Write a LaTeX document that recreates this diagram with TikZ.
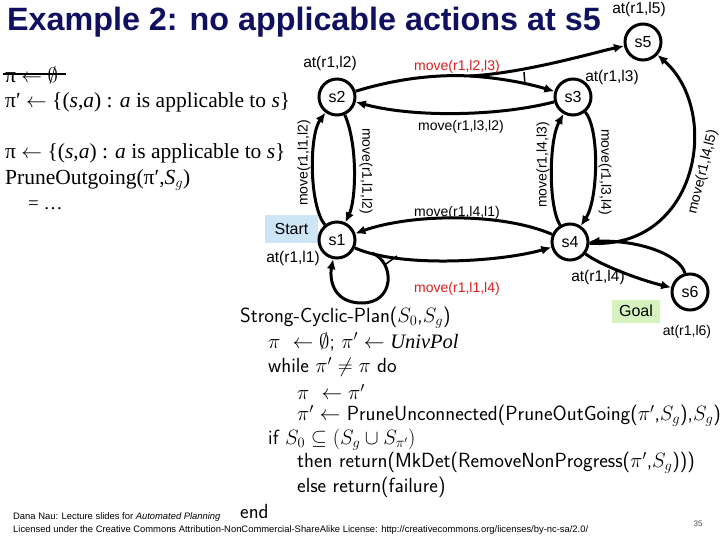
\documentclass[tikz,border=0pt]{standalone}
\usepackage{fontspec}
\setmainfont{Liberation Serif}
\newfontfamily\arial{Liberation Sans}
\usetikzlibrary{arrows.meta}
\definecolor{navy}{RGB}{16,16,96}
\definecolor{redlab}{RGB}{220,30,30}
\definecolor{startbg}{RGB}{204,230,248}
\definecolor{goalbg}{RGB}{214,242,190}
\tikzset{
  st/.style={draw,circle,line width=3pt,minimum size=36pt,inner sep=0pt,font=\arial\fontsize{16}{16}\selectfont},
  edge/.style={line width=3pt},
  arr/.style={line width=3pt,-{Latex[length=10pt,width=9pt]}},
  atlab/.style={font=\arial\fontsize{15.5}{16}\selectfont,inner sep=0pt},
  mvlab/.style={font=\arial\fontsize{14}{14}\selectfont,inner sep=0pt},
  code/.style={anchor=west,inner sep=0pt,font=\sffamily\fontsize{20.5}{20.5}\selectfont},
  lefttxt/.style={anchor=west,inner sep=0pt,font=\fontsize{21.5}{21.5}\selectfont},
  foot/.style={anchor=west,inner sep=0pt,font=\arial\fontsize{9.4}{9.4}\selectfont},
}
\begin{document}
\begin{tikzpicture}[x=1pt,y=-1pt]
\useasboundingbox (0,0) rectangle (720,540);
% title
\node[anchor=west,inner sep=0pt,font=\arial\bfseries\fontsize{32.3}{32}\selectfont,text=navy] (title) at (7,22) {Example 2: no applicable actions at s5};
% left text
\node[lefttxt] (l1) at (5,75) {π $\leftarrow$ $\emptyset$};
\coordinate (k1) at (3,74);
\coordinate (k2) at (66,74);
\draw[line width=1.6pt] (k1) -- (k2);
\node[lefttxt] (l2) at (5,102) {π′ $\leftarrow$ \{(\textit{s},\textit{a}) : \textit{a} is applicable to \textit{s}\}};
\node[lefttxt] (l3) at (5,153) {π $\leftarrow$ \{(\textit{s},\textit{a}) : \textit{a} is applicable to \textit{s}\}};
\node[lefttxt] (l4) at (5,180) {PruneOutgoing(π′,\textit{S}$_g$)};
\node[lefttxt,font=\fontsize{19}{19}\selectfont] (l5) at (28,205) {= \ldots};
% boxes
\node[fill=startbg,minimum width=53pt,minimum height=28pt,inner sep=0pt,font=\arial\fontsize{16}{16}\selectfont] (start) at (291.5,229) {Start};
\node[fill=goalbg,minimum width=48pt,minimum height=23pt,inner sep=0pt,font=\arial\fontsize{16}{16}\selectfont] (goal) at (636,311) {Goal};
% states
\node[st] (s1) at (337,240) {s1};
\node[st] (s2) at (337,97) {s2};
\node[st] (s3) at (573,97) {s3};
\node[st] (s4) at (570,242) {s4};
\node[st] (s5) at (643,42) {s5};
\node[st] (s6) at (690,292) {s6};
% state labels
\node[atlab] (a1) at (293,258) {at(r1,l1)};
\node[atlab] (a2) at (330,63) {at(r1,l2)};
\node[atlab] (a3) at (612,77) {at(r1,l3)};
\node[atlab] (a4) at (598,277) {at(r1,l4)};
\node[atlab] (a5) at (639,9) {at(r1,l5)};
\node[atlab,font=\arial\fontsize{14}{14}\selectfont] (a6) at (687,332) {at(r1,l6)};
% s2 -> {s3,s5}
\coordinate (sp) at (470,76);
\draw[edge] (s2) .. controls (392,80) and (432,74) .. (sp);
\draw[arr] (sp) .. controls (502,78) and (530,84) .. (s3);
\draw[arr] (sp) .. controls (525,73) and (596,52) .. (s5);
\coordinate (m1) at (524,72);
\coordinate (m2) at (525,85);
\draw[line width=1.5pt] (m1) -- (m2);
\node[mvlab,text=redlab] (lab23) at (457,67) {move(r1,l2,l3)};
% s3 -> s2
\draw[arr] (s3) .. controls (500,116) and (415,118) .. (s2);
\node[mvlab] (lab32) at (461,127) {move(r1,l3,l2)};
% s1 <-> s2
\draw[arr] (s1) .. controls (309,205) and (309,135) .. (s2);
\draw[arr] (s2) .. controls (358,145) and (356,200) .. (s1);
\node[mvlab,rotate=90] (lab12a) at (304,163) {move(r1,l1,l2)};
\node[mvlab,rotate=-90] (lab12b) at (366,171) {move(r1,l1,l2)};
% s4 <-> s3
\draw[arr] (s4) .. controls (548,205) and (549,140) .. (s3);
\draw[arr] (s3) .. controls (600,130) and (598,200) .. (s4);
\node[mvlab,rotate=90] (lab43) at (543,165) {move(r1,l4,l3)};
\node[mvlab,rotate=-90] (lab34) at (605,172) {move(r1,l3,l4)};
% s4 -> s5
\draw[arr] (s4) .. controls (698,250) and (722,112) .. (s5);
\node[mvlab,rotate=76] (lab45) at (703,172) {move(r1,l4,l5)};
% s4 -> s1
\draw[arr] (s4) .. controls (500,212) and (410,214) .. (s1);
\node[mvlab] (lab41) at (457,213) {move(r1,l4,l1)};
% s1 -> {s4, s1}
\draw[arr] (s1) .. controls (400,268) and (500,262) .. (s4);
\coordinate (sp2) at (372,253);
\draw[arr] (sp2) .. controls (395,262) and (395,303) .. (362,303) .. controls (330,303) and (330,275) .. (s1);
\coordinate (m3) at (386,264);
\coordinate (m4) at (397,256);
\draw[line width=1.5pt] (m3) -- (m4);
\node[mvlab,text=redlab] (lab14) at (457,289) {move(r1,l1,l4)};
% s4 <-> s6
\draw[arr] (s4) .. controls (600,265) and (640,280) .. (s6);
\draw[arr] (s6) .. controls (680,255) and (640,240) .. (s4);
% pseudocode
\node[code] (c1) at (240,318) {Strong-Cyclic-Plan($S_0$,$S_g$)};
\node[code] (c2) at (268,342) {$\pi\ \leftarrow \emptyset$; $\pi'\leftarrow \mathit{UnivPol}$};
\node[code] (c3) at (268,367) {while $\pi' \neq \pi$ do};
\node[code] (c4) at (297,392) {$\pi\ \leftarrow \pi'$};
\node[code] (c5) at (297,416) {$\pi' \leftarrow$ PruneUnconnected(PruneOutGoing($\pi'$,$S_g$),$S_g$)};
\node[code] (c6) at (268,440) {if $S_0 \subseteq (S_g \cup S_{\pi'})$};
\node[code] (c7) at (297,463) {then return(MkDet(RemoveNonProgress($\pi'$,$S_g$)))};
\node[code] (c8) at (297,487) {else return(failure)};
\node[code] (c9) at (240,511) {end};
% footer
\node[foot] (f1) at (13,517) {Dana Nau: Lecture slides for \textit{Automated Planning}};
\node[foot] (f2) at (13,530) {Licensed under the Creative Commons Attribution-NonCommercial-ShareAlike License: http://creativecommons.org/licenses/by-nc-sa/2.0/};
\node[inner sep=0pt,font=\arial\fontsize{8}{8}\selectfont,text=black!70] (pg) at (698,524) {35};
\end{tikzpicture}
\end{document}
